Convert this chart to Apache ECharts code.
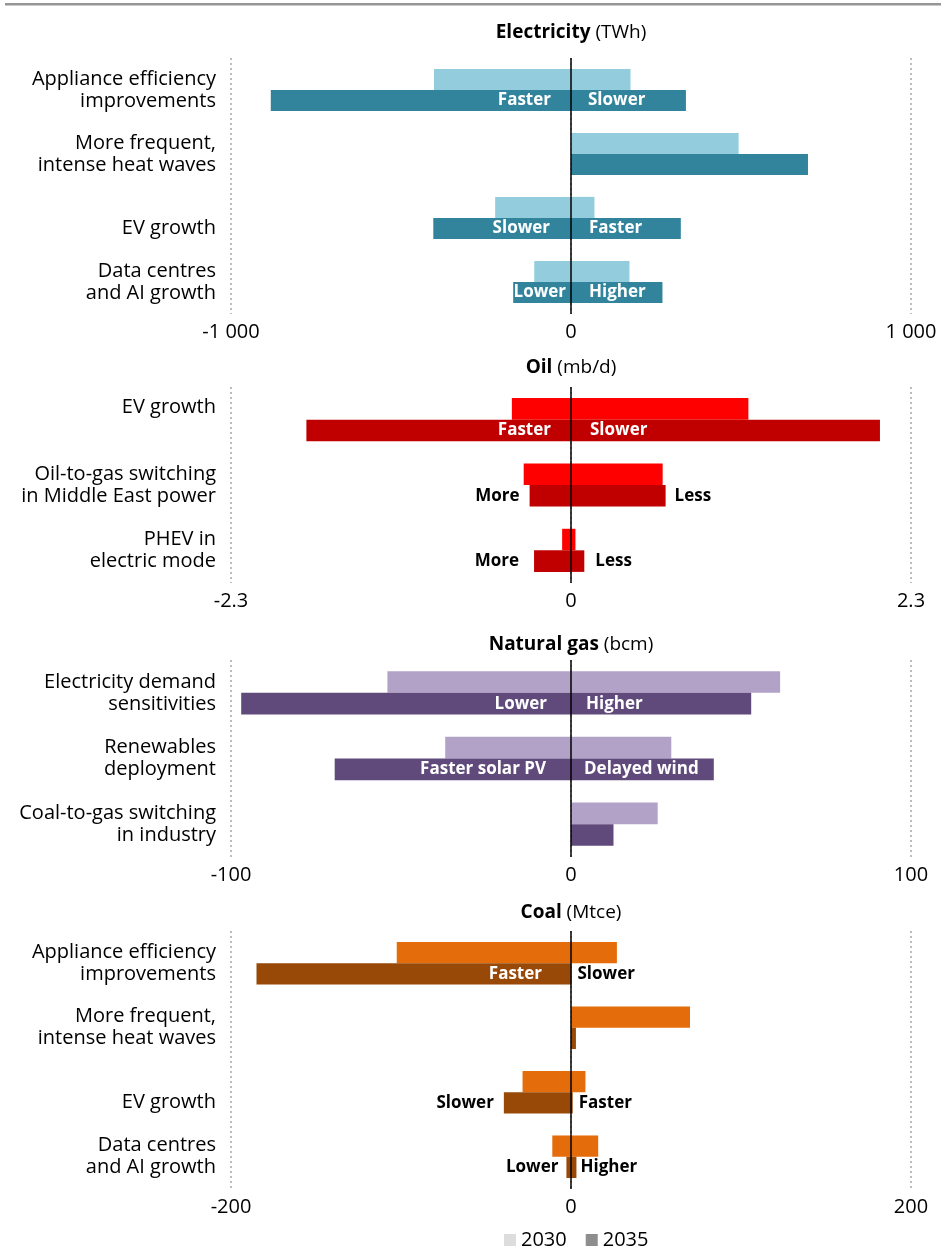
<!DOCTYPE html>
<html><head><meta charset="utf-8">
<script src="https://cdn.jsdelivr.net/npm/echarts@6/dist/echarts.min.js"></script>
<style>html,body{margin:0;padding:0;background:#fff}#c{width:946px;height:1250px}</style>
</head><body><div id="c"></div>
<script>
// ---------- DATA ----------
const elecCats = ['Appliance efficiency\nimprovements', 'More frequent,\nintense heat waves', 'EV growth', 'Data centres\nand AI growth'];
const elec2030Neg = [-403, 0, -223, -108];
const elec2030Pos = [175, 493, 69, 172];
const elec2035Neg = [-883, 0, -405, -170];
const elec2035Pos = [338, 697, 323, 269];
const elecNegLabels = ['Faster', '', 'Slower', 'Lower'];
const elecPosLabels = ['Slower', '', 'Faster', 'Higher'];
const elecTicks = ['-1 000', '0', '1 000'];

const oilCats = ['EV growth', 'Oil-to-gas switching\nin Middle East power', 'PHEV in\nelectric mode'];
const oil2030Neg = [-0.40, -0.32, -0.06];
const oil2030Pos = [1.20, 0.62, 0.03];
const oil2035Neg = [-1.79, -0.28, -0.25];
const oil2035Pos = [2.09, 0.64, 0.09];
const oilNegLabels = ['Faster', 'More', 'More'];
const oilPosLabels = ['Slower', 'Less', 'Less'];
const oilTicks = ['-2.3', '0', '2.3'];

const gasCats = ['Electricity demand\nsensitivities', 'Renewables\ndeployment', 'Coal-to-gas switching\nin industry'];
const gas2030Neg = [-54, -37, 0];
const gas2030Pos = [61.5, 29.5, 25.5];
const gas2035Neg = [-97, -69.5, 0];
const gas2035Pos = [53, 42, 12.5];
const gasNegLabels = ['Lower', 'Faster solar PV', ''];
const gasPosLabels = ['Higher', 'Delayed wind', ''];
const gasTicks = ['-100', '0', '100'];

const coalCats = ['Appliance efficiency\nimprovements', 'More frequent,\nintense heat waves', 'EV growth', 'Data centres\nand AI growth'];
const coal2030Neg = [-102.5, 0, -28.5, -11];
const coal2030Pos = [27, 70, 8.5, 16];
const coal2035Neg = [-185, 0, -39.5, -2.7];
const coal2035Pos = [0.3, 2.9, 1, 3.2];
const coalNegLabels = ['Faster', '', 'Slower', 'Lower'];
const coalPosLabels = ['Slower', '', 'Faster', 'Higher'];
const coalTicks = ['-200', '0', '200'];

const legendNames = ['2030', '2035'];

// ---------- STYLE / LAYOUT ----------
const FF = '"Open Sans", "Noto Sans", sans-serif';
const panels = [
  { name: 'Electricity', unit: '(TWh)', cats: elecCats, vals: [elec2030Neg, elec2030Pos, elec2035Neg, elec2035Pos],
    negLab: elecNegLabels, posLab: elecPosLabels, ticks: elecTicks, max: 1000,
    colors: ['#93CDDD', '#31849B'], top: 58, height: 256, titleY: 33,
    negMode: ['in', 'in', 'in', 'in'], posMode: ['in', 'in', 'in', 'in'],
    negDist: [20, 0, 21, 5], posDist: [17, 0, 18, 18], shift: { 'EV growth': 'down' } },
  { name: 'Oil', unit: '(mb/d)', cats: oilCats, vals: [oil2030Neg, oil2030Pos, oil2035Neg, oil2035Pos],
    negLab: oilNegLabels, posLab: oilPosLabels, ticks: oilTicks, max: 2.3,
    colors: ['#FF0000', '#C00000'], top: 387, height: 196, titleY: 368,
    negMode: ['in', 'out', 'out'], posMode: ['in', 'out', 'out'],
    negDist: [20, 10, 15], posDist: [19, 9, 11], shift: { 'EV growth': 'up' } },
  { name: 'Natural gas', unit: '(bcm)', cats: gasCats, vals: [gas2030Neg, gas2030Pos, gas2035Neg, gas2035Pos],
    negLab: gasNegLabels, posLab: gasPosLabels, ticks: gasTicks, max: 100,
    colors: ['#B3A2C7', '#604A7B'], top: 660, height: 197, titleY: 645,
    negMode: ['in', 'in', 'in'], posMode: ['in', 'in', 'in'],
    negDist: [24, 25, 0], posDist: [15, 13, 0], shift: {} },
  { name: 'Coal', unit: '(Mtce)', cats: coalCats, vals: [coal2030Neg, coal2030Pos, coal2035Neg, coal2035Pos],
    negLab: coalNegLabels, posLab: coalPosLabels, ticks: coalTicks, max: 200,
    colors: ['#E46C0A', '#984807'], top: 931, height: 258, titleY: 913,
    negMode: ['in', 'out', 'out', 'out'], posMode: ['out', 'out', 'out', 'out'],
    negDist: [29, 0, 10, 8], posDist: [6, 0, 6, 4], shift: { 'EV growth': 'down' } }
];

function mkLabel(text, mode, side, dist) {
  if (!text) return { show: false };
  const inside = mode === 'in';
  return {
    show: true, formatter: text,
    position: inside ? (side < 0 ? 'insideRight' : 'insideLeft') : (side < 0 ? 'left' : 'right'),
    distance: dist, color: inside ? '#fff' : '#000',
    fontWeight: 'bold', fontSize: 17, fontFamily: FF
  };
}

const grids = [], xAxes = [], yAxes = [], series = [], graphics = [];
graphics.push({ type: 'rect', shape: { x: 5, y: 3, width: 936, height: 2.5 }, style: { fill: '#969696' }, silent: true });

panels.forEach((p, i) => {
  grids.push({ left: 231, width: 680, top: p.top, height: p.height });
  xAxes.push({
    gridIndex: i, type: 'value', min: -p.max, max: p.max, interval: p.max,
    axisLine: { show: false }, axisTick: { show: false },
    splitLine: { show: true, lineStyle: { color: '#A6A6A6', type: [2, 3], width: 1.5 } },
    axisLabel: { fontSize: 20, fontFamily: FF, color: '#000', margin: 8,
      formatter: v => p.ticks[Math.round(v / p.max) + 1] }
  });
  yAxes.push({
    gridIndex: i, type: 'category', data: p.cats, inverse: true,
    axisLine: { show: false }, axisTick: { show: false }, splitLine: { show: false },
    axisLabel: {
      fontSize: 20, lineHeight: 22, color: '#000', fontFamily: FF, margin: 15,
      formatter: v => p.shift[v] ? '{' + p.shift[v] + '|' + v + '}' : v,
      rich: {
        down: { fontSize: 20, lineHeight: 22, fontFamily: FF, color: '#000', padding: [20, 0, 0, 0] },
        up: { fontSize: 20, lineHeight: 22, fontFamily: FF, color: '#000', padding: [0, 0, 24, 0] }
      }
    }
  });
  const common = { type: 'bar', xAxisIndex: i, yAxisIndex: i, barGap: '0%', barCategoryGap: '34%', silent: true, animation: false };
  series.push(Object.assign({}, common, { name: 'p' + i + 'a', stack: 's' + i + 'a', data: p.vals[0], itemStyle: { color: p.colors[0] } }));
  series.push(Object.assign({}, common, { name: 'p' + i + 'b', stack: 's' + i + 'a', data: p.vals[1], itemStyle: { color: p.colors[0] } }));
  series.push(Object.assign({}, common, { name: 'p' + i + 'c', stack: 's' + i + 'b', itemStyle: { color: p.colors[1] },
    data: p.vals[2].map((v, k) => ({ value: v, label: mkLabel(p.negLab[k], p.negMode[k], -1, p.negDist[k]) })) }));
  series.push(Object.assign({}, common, { name: 'p' + i + 'd', stack: 's' + i + 'b', itemStyle: { color: p.colors[1] },
    data: p.vals[3].map((v, k) => ({ value: v, label: mkLabel(p.posLab[k], p.posMode[k], 1, p.posDist[k]) })),
    markLine: { silent: true, symbol: 'none', label: { show: false }, animation: false,
      lineStyle: { color: '#000', type: 'solid', width: 1.5 }, data: [{ xAxis: 0 }] } }));
  graphics.push({ type: 'text', x: 571, y: p.titleY, silent: true,
    style: { text: '{b|' + p.name + '}{n| ' + p.unit + '}', align: 'center', verticalAlign: 'middle',
      rich: { b: { fontWeight: 'bold', fontSize: 19, fontFamily: FF, fill: '#000' },
              n: { fontSize: 19, fontFamily: FF, fill: '#000' } } } });
});

// legend dummy series
series.push({ type: 'line', name: legendNames[0], xAxisIndex: 0, yAxisIndex: 0, data: [], itemStyle: { color: '#DDDDDD' }, lineStyle: { color: '#DDDDDD' } });
series.push({ type: 'line', name: legendNames[1], xAxisIndex: 0, yAxisIndex: 0, data: [], itemStyle: { color: '#8E8E8E' }, lineStyle: { color: '#8E8E8E' } });

const chart = echarts.init(document.getElementById('c'), null, { renderer: 'canvas' });
chart.setOption({
  animation: false,
  backgroundColor: '#fff',
  grid: grids, xAxis: xAxes, yAxis: yAxes, series: series, graphic: graphics,
  legend: { data: legendNames.map(n => ({ name: n, icon: 'rect' })), left: 504, top: 1230, padding: 0,
    itemWidth: 12, itemHeight: 12, itemGap: 19, selectedMode: false,
    textStyle: { fontSize: 20, fontFamily: FF, color: '#000' } }
});
</script></body></html>
